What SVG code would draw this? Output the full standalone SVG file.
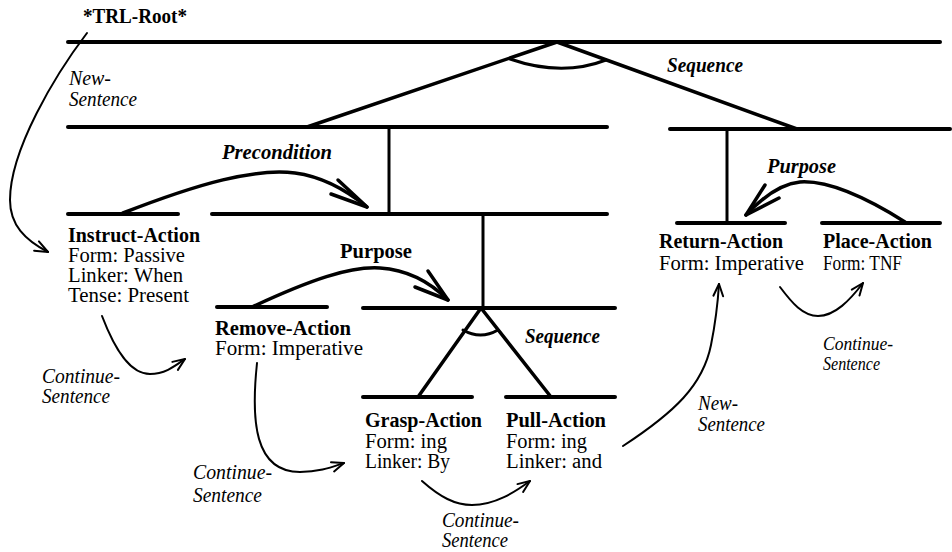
<svg xmlns="http://www.w3.org/2000/svg" width="952" height="552" viewBox="0 0 952 552">
<style>
.bar{stroke:#000;stroke-width:4;stroke-linecap:round;fill:none}
.tree{stroke:#000;stroke-width:3.5;fill:none;stroke-linecap:round}
.vert{stroke:#000;stroke-width:3;fill:none}
.arc{stroke:#000;stroke-width:3;fill:none;stroke-linecap:round}
.thick{stroke:#000;stroke-width:3.5;fill:none;stroke-linecap:round;stroke-linejoin:round}
.thin{stroke:#000;stroke-width:2;fill:none;stroke-linecap:round;stroke-linejoin:round}
text{font-family:"Liberation Serif","Times New Roman",serif;font-size:20px;fill:#000}
.b{font-weight:bold}
.i{font-style:italic}
.s{font-size:19px}
</style>
<rect width="952" height="552" fill="#fff"/>
<g id="root">
<line class="bar" x1="68" y1="42" x2="940" y2="42"/>
<text class="b" x="83" y="23" textLength="104" lengthAdjust="spacingAndGlyphs">*TRL-Root*</text>
</g>
<g id="seq-left">
<line class="bar" x1="68" y1="127" x2="607" y2="127"/>
</g>
<g id="seq-right">
<line class="bar" x1="670" y1="129" x2="950" y2="129"/>
</g>
<g id="instruct-action">
<line class="bar" x1="68" y1="214" x2="178" y2="214"/>
<text class="b" x="68" y="242" textLength="132" lengthAdjust="spacingAndGlyphs">Instruct-Action</text>
<text x="68" y="262" textLength="117" lengthAdjust="spacingAndGlyphs">Form: Passive</text>
<text x="68" y="282" textLength="115" lengthAdjust="spacingAndGlyphs">Linker: When</text>
<text x="68" y="302" textLength="121" lengthAdjust="spacingAndGlyphs">Tense: Present</text>
</g>
<g id="precond-target">
<line class="bar" x1="212" y1="214" x2="607" y2="214"/>
</g>
<g id="remove-action">
<line class="bar" x1="217" y1="307" x2="327" y2="307"/>
<text class="b" x="215" y="335" textLength="136" lengthAdjust="spacingAndGlyphs">Remove-Action</text>
<text x="215" y="355" textLength="148" lengthAdjust="spacingAndGlyphs">Form: Imperative</text>
</g>
<g id="seq-lower">
<line class="bar" x1="363" y1="308" x2="615" y2="308"/>
</g>
<g id="grasp-action">
<line class="bar" x1="363" y1="397" x2="472" y2="397"/>
<text class="b" x="365" y="427" textLength="117" lengthAdjust="spacingAndGlyphs">Grasp-Action</text>
<text x="365" y="448" textLength="82" lengthAdjust="spacingAndGlyphs">Form: ing</text>
<text x="365" y="468" textLength="85" lengthAdjust="spacingAndGlyphs">Linker: By</text>
</g>
<g id="pull-action">
<line class="bar" x1="506" y1="397" x2="615" y2="397"/>
<text class="b" x="506" y="427" textLength="100" lengthAdjust="spacingAndGlyphs">Pull-Action</text>
<text x="506" y="448" textLength="81" lengthAdjust="spacingAndGlyphs">Form: ing</text>
<text x="506" y="468" textLength="96" lengthAdjust="spacingAndGlyphs">Linker: and</text>
</g>
<g id="return-action">
<line class="bar" x1="677" y1="223" x2="785" y2="223"/>
<text class="b" x="659" y="248" textLength="124" lengthAdjust="spacingAndGlyphs">Return-Action</text>
<text x="659" y="270" textLength="145" lengthAdjust="spacingAndGlyphs">Form: Imperative</text>
</g>
<g id="place-action">
<line class="bar" x1="822" y1="223" x2="940" y2="223"/>
<text class="b" x="823" y="248" textLength="109" lengthAdjust="spacingAndGlyphs">Place-Action</text>
<text x="823" y="270" textLength="79" lengthAdjust="spacingAndGlyphs">Form: TNF</text>
</g>
<g id="connectors">
<line class="tree" x1="557" y1="42" x2="307" y2="127"/>
<line class="tree" x1="557" y1="42" x2="797" y2="129"/>
<path class="arc" d="M510,59 Q562,77 606,60"/>
<line class="vert" x1="389" y1="127" x2="389" y2="214"/>
<line class="vert" x1="727" y1="129" x2="727" y2="223"/>
<line class="vert" x1="483" y1="214" x2="483" y2="308"/>
<line class="tree" x1="481" y1="308" x2="418" y2="397"/>
<line class="tree" x1="481" y1="308" x2="551" y2="397"/>
<path class="arc" d="M463,330 Q480.5,340 498,330"/>
<path class="thick" d="M123,213 C200,183 255,168 295,173 C325,177 350,193 367,207"/>
<path class="thick" d="M338,180 L367,207 L331,194"/>
<path class="thick" d="M252,307 C310,280 350,266 380,268 C410,270 432,284 448,300"/>
<path class="thick" d="M428,271 L448,300 L415,287"/>
<path class="thick" d="M905,222 C870,200 830,180 800,182 C780,184 760,200 746,215"/>
<path class="thick" d="M765,185 L746,215 L779,198"/>
<path class="thin" d="M87,33 C55,75 10,150 10,200 C10,225 25,240 48,252"/>
<path class="thin" d="M34.1,250.7 L48,252 L38.9,241.4"/>
<path class="thin" d="M102,316 C115,350 130,374 150,374 C165,374 175,366 185,359"/>
<path class="thin" d="M177.9,369.9 L185,359 L172.3,361.9"/>
<path class="thin" d="M257,363 C251,420 254,472 300,472 C320,472 332,467 344,463"/>
<path class="thin" d="M334.1,471.4 L344,463 L331,462.2"/>
<path class="thin" d="M422,481 C440,497 455,505 472,505 C495,505 515,492 530,481"/>
<path class="thin" d="M523.1,492 L530,481 L517.4,484.1"/>
<path class="thin" d="M623,446 C675,412 703,385 711,345 C716,320 718,300 719,284"/>
<path class="thin" d="M723.1,296.3 L719,284 L713.4,295.7"/>
<path class="thin" d="M780,287 C792,303 803,316 818,316 C835,316 850,300 863,283"/>
<path class="thin" d="M859.5,295.5 L863,283 L851.8,289.6"/>
</g>
<g id="labels">
<text class="i" x="69" y="85" textLength="42" lengthAdjust="spacingAndGlyphs">New-</text>
<text class="i" x="69" y="106" textLength="68" lengthAdjust="spacingAndGlyphs">Sentence</text>
<text class="b i" x="667" y="72" textLength="76" lengthAdjust="spacingAndGlyphs">Sequence</text>
<text class="b i" x="222" y="159" textLength="110" lengthAdjust="spacingAndGlyphs">Precondition</text>
<text class="b i" x="767" y="173" textLength="69" lengthAdjust="spacingAndGlyphs">Purpose</text>
<text class="b" x="340" y="258" textLength="72" lengthAdjust="spacingAndGlyphs">Purpose</text>
<text class="b i" x="525" y="343" textLength="75" lengthAdjust="spacingAndGlyphs">Sequence</text>
<text class="i" x="42" y="383" textLength="78" lengthAdjust="spacingAndGlyphs">Continue-</text>
<text class="i" x="42" y="403" textLength="68" lengthAdjust="spacingAndGlyphs">Sentence</text>
<text class="i" x="193" y="479" textLength="79" lengthAdjust="spacingAndGlyphs">Continue-</text>
<text class="i" x="193" y="502" textLength="69" lengthAdjust="spacingAndGlyphs">Sentence</text>
<text class="i" x="442" y="527" textLength="77" lengthAdjust="spacingAndGlyphs">Continue-</text>
<text class="i" x="442" y="547" textLength="66" lengthAdjust="spacingAndGlyphs">Sentence</text>
<text class="i" x="698" y="410" textLength="40" lengthAdjust="spacingAndGlyphs">New-</text>
<text class="i" x="698" y="431" textLength="67" lengthAdjust="spacingAndGlyphs">Sentence</text>
<text class="i s" x="823" y="350" textLength="70" lengthAdjust="spacingAndGlyphs">Continue-</text>
<text class="i s" x="823" y="370" textLength="57" lengthAdjust="spacingAndGlyphs">Sentence</text>
</g>
</svg>
